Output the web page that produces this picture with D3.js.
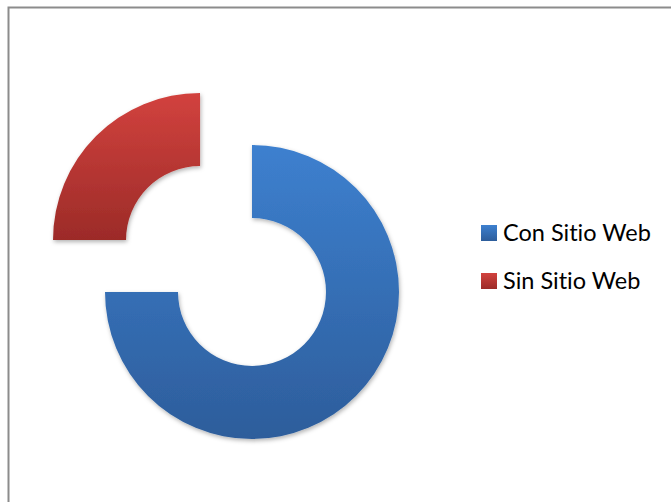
<!DOCTYPE html>
<html>
<head>
<meta charset="utf-8">
<script src="https://cdn.jsdelivr.net/npm/d3@7"></script>
<style>
  body { margin: 0; background: #fff; }
  svg { display: block; }
</style>
</head>
<body>
<div id="chart"></div>
<script>
// chart size
var width = 671,
    height = 502;

// data
const categories = ["Con Sitio Web", "Sin Sitio Web"];
const values = [75, 25];
const topColors = ["#3d80cf", "#d2423e"];
const bottomColors = ["#2d5d9b", "#9c2b28"];

// doughnut geometry
const cx = 252, cy = 292;
const outerR = 147, innerR = 74;
const explode = [0, 73.5];

const svg = d3.select("#chart")
  .append("svg")
    .attr("width", width)
    .attr("height", height);

const defs = svg.append("defs");

// gradient per slice
categories.forEach(function(c, i) {
  const g = defs.append("linearGradient")
    .attr("id", "grad" + i)
    .attr("x1", 0).attr("y1", 0)
    .attr("x2", 0).attr("y2", 1);
  g.append("stop").attr("offset", "0%").attr("stop-color", topColors[i]);
  g.append("stop").attr("offset", "100%").attr("stop-color", bottomColors[i]);
});

// soft shadow
const f = defs.append("filter")
  .attr("id", "shadow")
  .attr("x", "-20%").attr("y", "-20%")
  .attr("width", "140%").attr("height", "140%");
f.append("feDropShadow")
  .attr("dx", 1).attr("dy", 2)
  .attr("stdDeviation", 2)
  .attr("flood-color", "#000")
  .attr("flood-opacity", 0.3);

// frame
svg.append("rect")
  .attr("x", 8.5).attr("y", 7.5)
  .attr("width", 700).attr("height", 600)
  .attr("fill", "none")
  .attr("stroke", "#8c8c8c")
  .attr("stroke-width", 2);

const pie = d3.pie()
  .sort(null)
  .value(function(d) { return d; });
const data_ready = pie(values);

const arcGenerator = d3.arc()
  .innerRadius(innerR)
  .outerRadius(outerR);

const g = svg.append("g")
  .attr("transform", `translate(${cx}, ${cy})`);

g.selectAll("path")
  .data(data_ready)
  .join("path")
    .attr("d", arcGenerator)
    .attr("transform", function(d) {
      const mid = (d.startAngle + d.endAngle) / 2;
      const e = explode[d.index];
      return `translate(${Math.sin(mid) * e}, ${-Math.cos(mid) * e})`;
    })
    .attr("fill", function(d) { return "url(#grad" + d.index + ")"; })
    .attr("filter", "url(#shadow)");

// legend
const legend = svg.append("g")
  .attr("transform", "translate(481, 225)");

const item = legend.selectAll("g")
  .data(categories)
  .join("g")
    .attr("transform", function(d, i) { return `translate(0, ${i * 48})`; });

item.append("rect")
  .attr("width", 16)
  .attr("height", 16)
  .attr("fill", function(d, i) { return "url(#grad" + i + ")"; });

item.append("text")
  .attr("x", 22)
  .attr("y", 15.5)
  .text(function(d) { return d; })
  .style("font-family", "Lato, 'Open Sans', sans-serif")
  .style("font-size", "23.5px")
  .style("font-variant-ligatures", "none")
  .style("fill", "#000");
</script>
</body>
</html>
